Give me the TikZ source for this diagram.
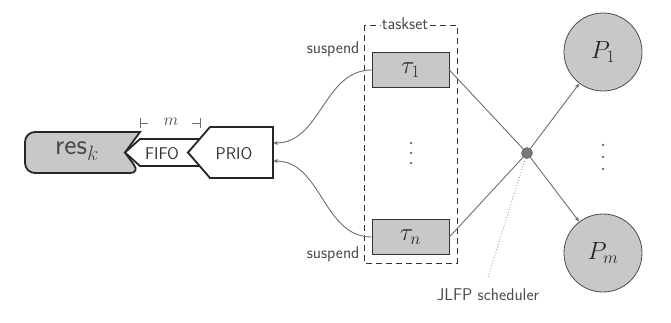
\documentclass[tikz,border=0pt]{standalone}
\usetikzlibrary{arrows.meta}
\definecolor{boxgray}{HTML}{C8C8C8}
\definecolor{linegray}{HTML}{6E6E6E}
\definecolor{dotgray}{HTML}{7A7A7A}
\definecolor{textgray}{HTML}{4A4A4A}
\begin{document}
\begin{tikzpicture}[x=1pt,y=-1pt,
  small/.style={font=\fontsize{17}{18}\selectfont\sffamily, text=textgray},
  big/.style={font=\fontsize{27}{29}\selectfont, text=black!85},
  task/.style={draw=black!80, thick, fill=boxgray, minimum width=77pt, minimum height=35pt, inner sep=0pt},
  proc/.style={circle, draw=black!70, thick, fill=boxgray, minimum size=78pt, inner sep=0pt},
  link/.style={draw=linegray, line width=0.9pt},
  arr/.style={link, -{Stealth[length=5pt,width=4pt]}},
  bullet/.style={circle, fill=linegray, minimum size=2.6pt, inner sep=0pt},
  queue/.style={draw=black!85, line width=1.8pt, line join=miter}]
\useasboundingbox (0,0) rectangle (671,322);

% resource, FIFO part and priority part of the queue
\draw[queue, fill=boxgray, rounded corners=10pt] (140,132) -- (25,132) -- (25,173) -- (140,173) [sharp corners] -- (125,152.5) -- cycle;
\draw[queue, fill=white] (140,139) -- (202,139) -- (188,152.5) -- (202,166) -- (140,166) -- (125,152.5) -- cycle;
\draw[queue, fill=white] (210,127) -- (273,127) -- (273,178) -- (210,178) -- (188,152.5) -- cycle;
\node[font=\fontsize{29}{31}\selectfont\sffamily, text=textgray] (res) at (77,151) {res$_k$};
\node[small, text=black!80] (fifo) at (162,154) {FIFO};
\node[small, text=black!80] (prio) at (234,154) {PRIO};
\coordinate (prio-in1) at (273,143);
\coordinate (prio-in2) at (273,161);

% queue length marker
\coordinate (mL) at (140,123);
\coordinate (mR) at (200,123);
\draw[linegray, line width=1pt] ([yshift=-5pt]mL) -- ([yshift=5pt]mL) (mL) -- ++(8,0);
\draw[linegray, line width=1pt] ([yshift=-5pt]mR) -- ([yshift=5pt]mR) (mR) -- ++(-8,0);
\node[font=\fontsize{16}{17}\selectfont, text=textgray] (mlab) at (171,122) {$m$};

% task set
\draw[black!80, thick, dash pattern=on 6pt off 4pt] (364,25) rectangle (457,263);
\node[small, fill=white, inner sep=1pt] (ts) at (405,24) {taskset};
\node[task] (t1) at (410.5,70) {};
\node[big] at (t1) {$\tau_1$};
\node[task] (tn) at (410.5,237) {};
\node[big] at (tn) {$\tau_n$};
\node[bullet] (d1) at (411,143) {};
\node[bullet] (d2) at (411,153) {};
\node[bullet] (d3) at (411,163) {};
\node[small, anchor=east] (s1) at (363,49) {suspend};
\node[small, anchor=east] (s2) at (363,254) {suspend};

% suspension paths back to the queue
\draw[arr] (t1.west) to[out=180,in=0] (prio-in1);
\draw[arr] (tn.west) to[out=180,in=0] (prio-in2);

% scheduler and processors
\node[circle, draw=black!70, fill=dotgray, minimum size=11pt, inner sep=0pt] (sch) at (527,153) {};
\node[proc] (p1) at (603,52) {};
\node[big] at (p1) {$P_1$};
\node[proc] (pm) at (603,253) {};
\node[big] at (pm) {$P_m$};
\node[bullet] (e1) at (603,145) {};
\node[bullet] (e2) at (603,157) {};
\node[bullet] (e3) at (603,169) {};
\draw[link] (t1.east) -- (sch);
\draw[link] (tn.east) -- (sch);
\draw[arr] (sch) -- (p1);
\draw[arr] (sch) -- (pm);

% scheduler label
\coordinate (lblend) at (488,277);
\draw[linegray!80, dotted, thick] (sch) -- (lblend);
\node[small] (jlfp) at (488,295) {JLFP scheduler};
\end{tikzpicture}
\end{document}
